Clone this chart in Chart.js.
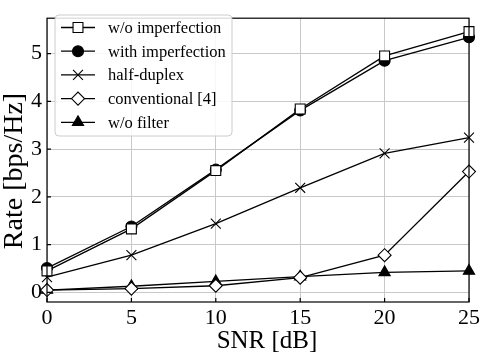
<!DOCTYPE html>
<html>
<head>
<meta charset="utf-8">
<script src="https://cdn.jsdelivr.net/npm/chart.js@4.4.1/dist/chart.umd.min.js"></script>
<style>
  html, body { margin: 0; padding: 0; background: #fff; }
  #wrap { width: 483px; height: 353px; }
</style>
</head>
<body>
<div id="wrap"><canvas id="rateChart" width="483" height="353"></canvas></div>
<script>
// SNR points (dB)
const snr = [0, 5, 10, 15, 20, 25];

// Rate values (bps/Hz)
const woImperfection = [0.45, 1.33, 2.55, 3.84, 4.95, 5.46];
const withImperfection = [0.51, 1.38, 2.57, 3.81, 4.85, 5.34];
const halfDuplex = [0.32, 0.78, 1.44, 2.19, 2.91, 3.24];
const conventional = [0.05, 0.08, 0.14, 0.31, 0.78, 2.53];
const woFilter = [0.05, 0.13, 0.23, 0.33, 0.42, 0.45];

const seriesNames = ['w/o imperfection', 'with imperfection', 'half-duplex', 'conventional [4]', 'w/o filter'];

const xTicks = [0, 5, 10, 15, 20, 25];
const yTicks = [0, 1, 2, 3, 4, 5];

const xTitle = 'SNR [dB]';
const yTitle = 'Rate [bps/Hz]';

const FONT = "'Liberation Serif', 'DejaVu Serif', serif";

// marker styles per series
const markers = [
  { style: 'rect', radius: 7, fill: '#ffffff' },
  { style: 'circle', radius: 5.5, fill: '#000000' },
  { style: 'crossRot', radius: 7, fill: '#000000' },
  { style: 'rectRot', radius: 6.5, fill: '#ffffff' },
  { style: 'triangle', radius: 6.5, fill: '#000000' }
];

function toPoints(values) {
  return values.map((v, i) => ({ x: snr[i], y: v }));
}

function makeDataset(label, values, m) {
  return {
    label: label,
    data: toPoints(values),
    borderColor: '#000',
    borderWidth: 1.3,
    pointStyle: m.style,
    pointRadius: m.radius,
    pointHoverRadius: m.radius,
    pointBackgroundColor: m.fill,
    pointBorderColor: '#000',
    pointBorderWidth: 1.1,
    tension: 0,
    fill: false,
    clip: false
  };
}

// draws a simple marker (used for the legend)
function drawMarker(ctx, m, x, y) {
  const r = m.radius;
  ctx.save();
  ctx.beginPath();
  ctx.lineWidth = 1.1;
  ctx.strokeStyle = '#000';
  ctx.fillStyle = m.fill;
  if (m.style === 'rect') {
    const s = Math.SQRT1_2 * r;
    ctx.rect(x - s, y - s, 2 * s, 2 * s);
    ctx.fill(); ctx.stroke();
  } else if (m.style === 'circle') {
    ctx.arc(x, y, r, 0, Math.PI * 2);
    ctx.fill(); ctx.stroke();
  } else if (m.style === 'crossRot') {
    const s = Math.SQRT1_2 * r;
    ctx.moveTo(x - s, y - s); ctx.lineTo(x + s, y + s);
    ctx.moveTo(x - s, y + s); ctx.lineTo(x + s, y - s);
    ctx.stroke();
  } else if (m.style === 'rectRot') {
    ctx.moveTo(x - r, y); ctx.lineTo(x, y - r); ctx.lineTo(x + r, y); ctx.lineTo(x, y + r);
    ctx.closePath();
    ctx.fill(); ctx.stroke();
  } else if (m.style === 'triangle') {
    for (let k = 0; k < 3; k++) {
      const a = k * 2 * Math.PI / 3;
      const px = x + Math.sin(a) * r, py = y - Math.cos(a) * r;
      if (k === 0) ctx.moveTo(px, py); else ctx.lineTo(px, py);
    }
    ctx.closePath();
    ctx.fill(); ctx.stroke();
  }
  ctx.restore();
}

// frame, inward ticks, axis titles and the legend box
const framePlugin = {
  id: 'frame',
  afterDraw(chart) {
    const ctx = chart.ctx;
    const a = chart.chartArea;
    const xs = chart.scales.x, ys = chart.scales.y;
    ctx.save();
    ctx.strokeStyle = '#000';
    ctx.lineWidth = 1.2;
    ctx.strokeRect(a.left, a.top, a.right - a.left, a.bottom - a.top);
    ctx.beginPath();
    xTicks.forEach(t => {
      const px = xs.getPixelForValue(t);
      ctx.moveTo(px, a.bottom); ctx.lineTo(px, a.bottom - 4);
    });
    yTicks.forEach(t => {
      const py = ys.getPixelForValue(t);
      ctx.moveTo(a.left, py); ctx.lineTo(a.left + 4, py);
    });
    ctx.stroke();

    // axis titles
    ctx.fillStyle = '#000';
    ctx.textAlign = 'center';
    ctx.textBaseline = 'middle';
    ctx.font = '25px ' + FONT;
    ctx.fillText(xTitle, 267, 341);
    ctx.save();
    ctx.translate(15, 171);
    ctx.rotate(-Math.PI / 2);
    ctx.font = '28px ' + FONT;
    ctx.fillText(yTitle, 0, 0);
    ctx.restore();

    // legend
    const lx = 55, ly = 15, lw = 177, lh = 121, rad = 4;
    ctx.beginPath();
    ctx.moveTo(lx + rad, ly);
    ctx.arcTo(lx + lw, ly, lx + lw, ly + lh, rad);
    ctx.arcTo(lx + lw, ly + lh, lx, ly + lh, rad);
    ctx.arcTo(lx, ly + lh, lx, ly, rad);
    ctx.arcTo(lx, ly, lx + lw, ly, rad);
    ctx.closePath();
    ctx.fillStyle = 'rgba(255,255,255,0.85)';
    ctx.fill();
    ctx.strokeStyle = '#cccccc';
    ctx.lineWidth = 1;
    ctx.stroke();

    ctx.font = '16.5px ' + FONT;
    ctx.textBaseline = 'middle';
    ctx.textAlign = 'left';
    seriesNames.forEach((name, i) => {
      const y = 27.5 + i * 23.7;
      ctx.beginPath();
      ctx.strokeStyle = '#000';
      ctx.lineWidth = 1.3;
      ctx.moveTo(61, y); ctx.lineTo(95, y);
      ctx.stroke();
      drawMarker(ctx, markers[i], 78, y);
      ctx.fillStyle = '#000';
      ctx.fillText(name, 108, y + 1);
    });
    ctx.restore();
  }
};

const allSeries = [woImperfection, withImperfection, halfDuplex, conventional, woFilter];

new Chart(document.getElementById('rateChart'), {
  type: 'line',
  data: {
    datasets: allSeries.map((vals, i) => makeDataset(seriesNames[i], vals, markers[i]))
  },
  options: {
    responsive: false,
    animation: false,
    layout: { padding: { top: 6, right: 9, left: 0, bottom: 0 } },
    plugins: {
      legend: { display: false },
      tooltip: { enabled: false }
    },
    scales: {
      x: {
        type: 'linear',
        min: 0,
        max: 25,
        afterBuildTicks: s => { s.ticks = xTicks.map(v => ({ value: v })); },
        afterFit: s => { s.height = 51; },
        grid: { color: '#c8c8c8', lineWidth: 1, drawTicks: false },
        border: { display: false },
        ticks: {
          color: '#000',
          font: { family: FONT, size: 22 },
          padding: 3,
          maxRotation: 0
        }
      },
      y: {
        type: 'linear',
        min: -0.2,
        max: 5.74,
        afterBuildTicks: s => { s.ticks = yTicks.map(v => ({ value: v })); },
        afterFit: s => { s.width = 47; },
        grid: { color: '#c8c8c8', lineWidth: 1, drawTicks: false },
        border: { display: false },
        ticks: {
          color: '#000',
          font: { family: FONT, size: 22 },
          padding: 5
        }
      }
    }
  },
  plugins: [framePlugin]
});
</script>
</body>
</html>
